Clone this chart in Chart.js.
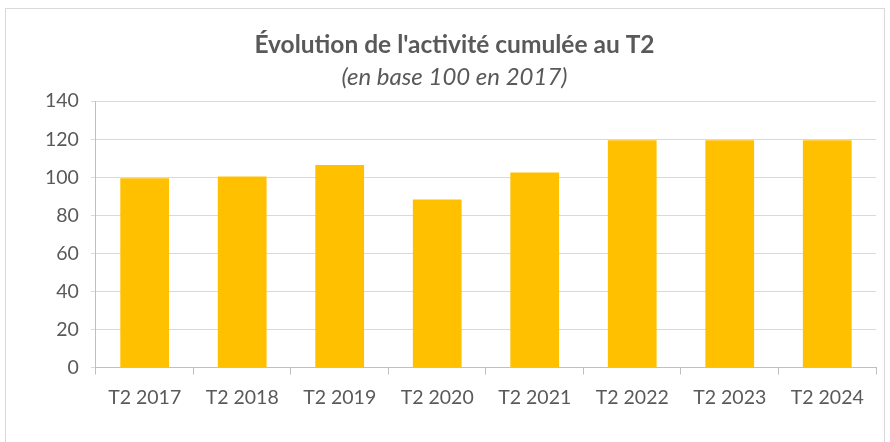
<!DOCTYPE html>
<html>
<head>
<meta charset="utf-8">
<script src="https://cdn.jsdelivr.net/npm/chart.js@4.4.1/dist/chart.umd.min.js"></script>
<style>
    body { margin: 0; background: #ffffff; }
    #frame {
        position: absolute;
        left: 5px;
        top: 8px;
        width: 880px;
        height: 440px;
        border: 1px solid #d9d9d9;
        box-sizing: border-box;
    }
    #wrap { position: absolute; left: 0; top: 0; width: 890px; height: 442px; }
</style>
</head>
<body>
<div id="frame"></div>
<div id="wrap"><canvas id="chart"></canvas></div>
<script>
// categories and values (base 100 in 2017)
let categories = ["T2 2017", "T2 2018", "T2 2019", "T2 2020", "T2 2021", "T2 2022", "T2 2023", "T2 2024"];
let activityValues = [99.5, 100.4, 106.5, 88.4, 102.5, 119.5, 119.5, 119.5];
let yTicks = [0, 20, 40, 60, 80, 100, 120, 140];

let fontFamily = "Lato, 'Open Sans', sans-serif";
let textColor = "#595959";

let ctx = document.getElementById("chart").getContext("2d");
new Chart(ctx, {
    type: "bar",
    data: {
        labels: categories,
        datasets: [
            {
                data: activityValues,
                backgroundColor: "#FFC000",
                borderWidth: 0,
                barPercentage: 0.5,
                categoryPercentage: 1
            }
        ]
    },
    options: {
        responsive: true,
        maintainAspectRatio: false,
        animation: false,
        layout: {
            padding: { left: 33, right: 14, top: 30, bottom: 22 }
        },
        plugins: {
            legend: { display: false },
            tooltip: { enabled: false },
            title: {
                display: true,
                text: "Évolution de l'activité cumulée au T2",
                color: textColor,
                font: { family: fontFamily, size: 24.5, weight: "bold" },
                padding: { top: 0, bottom: 3 }
            },
            subtitle: {
                display: true,
                text: "(en base 100 en 2017)",
                color: textColor,
                font: { family: fontFamily, size: 24, style: "italic" },
                padding: { top: 0, bottom: 10 }
            }
        },
        scales: {
            x: {
                grid: {
                    offset: true,
                    drawOnChartArea: false,
                    drawTicks: true,
                    tickLength: 7,
                    color: "#bfbfbf"
                },
                border: { color: "#bfbfbf", width: 1 },
                ticks: {
                    color: textColor,
                    font: { family: fontFamily, size: 19.5 },
                    padding: 11,
                    maxRotation: 0
                }
            },
            y: {
                min: 0,
                max: 140,
                afterBuildTicks: (axis) => {
                    axis.ticks = yTicks.map((v) => ({ value: v }));
                },
                grid: {
                    color: "#d9d9d9",
                    tickLength: 5,
                    lineWidth: 1
                },
                border: { color: "#bfbfbf", width: 1 },
                ticks: {
                    color: textColor,
                    font: { family: fontFamily, size: 19.5 },
                    padding: 12
                }
            }
        }
    }
});
</script>
</body>
</html>
